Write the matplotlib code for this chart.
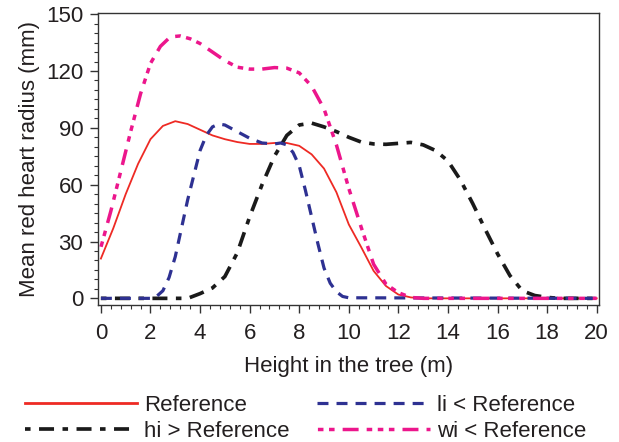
import numpy as np
import matplotlib
matplotlib.use('Agg')
import matplotlib.pyplot as plt
from matplotlib.ticker import MultipleLocator
from matplotlib.lines import Line2D

plt.rcParams['font.family'] = ['Liberation Sans', 'DejaVu Sans']
plt.rcParams['font.size'] = 16
plt.rcParams['lines.scale_dashes'] = False

# red heart radius profiles (height m, radius mm)
ref_x = [0, 0.5, 1, 1.5, 2, 2.5, 3, 3.5, 4, 4.5, 5, 5.5, 6, 6.5, 7, 7.5, 8,
         8.5, 9, 9.5, 10, 10.5, 11, 11.5, 12, 12.5, 13, 20]
ref_y = [21, 37, 55, 71, 84, 91, 93.5, 92, 89, 86, 84, 82.5, 81.5, 81.5, 82,
         82, 80.5, 76, 68.5, 56, 39, 27, 14.5, 6.5, 2, 0.5, 0, 0]

hi_x = [0, 3.5, 4, 4.5, 5, 5.5, 6, 6.5, 7, 7.5, 8, 8.5, 9, 9.5, 10, 10.5, 11,
        11.5, 12, 12.5, 13, 13.5, 14, 14.5, 15, 15.5, 16, 16.5, 17, 17.5, 18,
        18.5, 20]
hi_y = [0, 0, 2.5, 5.5, 11.5, 24, 43, 60, 75, 86, 91.5, 92.5, 90.5, 88, 85,
        82.5, 81.5, 81.3, 81.8, 82.3, 81, 78, 72.5, 62.5, 50, 36.5, 23.5, 12,
        4, 1.5, 0.5, 0, 0]

li_x = [0, 2, 2.2, 2.5, 2.75, 3, 3.25, 3.5, 3.75, 4, 4.25, 4.5, 4.75, 5, 5.5,
        6, 6.5, 7, 7.25, 7.5, 7.75, 8, 8.25, 8.5, 8.75, 9, 9.25, 9.5, 9.75, 10,
        20]
li_y = [0, 0, 0.5, 4, 11, 22, 37, 52, 65, 78, 86, 90.5, 92, 91.5, 88, 84.5,
        82, 81.5, 82, 81, 77, 70, 57, 43, 29, 16, 8, 3.5, 1, 0.3, 0]

wi_x = [0, 0.4, 0.8, 1.2, 1.6, 2, 2.4, 2.8, 3.2, 3.6, 4, 4.5, 5, 5.5, 6, 6.5,
        7, 7.5, 8, 8.5, 9, 9.5, 10, 10.5, 11, 11.5, 12, 12.5, 13, 20]
wi_y = [27, 46, 67, 88, 108, 124, 133, 138, 138.5, 137, 134.5, 130, 125.5,
        122, 121, 121, 121.8, 121.5, 119, 112, 100, 81, 58, 37.5, 18, 7.5, 3,
        0.5, 0, 0]

labels = ['Reference', 'hi > Reference', 'li < Reference', 'wi < Reference']
colors = ['#ee2a24', '#1a1a1a', '#2e3192', '#ec168c']
styles = ['-', (16.9, (10.8, 6.1, 4, 6.1)), (0, (7.9, 5.8)),
          (25, (11.5, 5.8, 4, 4, 4, 4, 4, 5.8))]
widths = [1.3, 2.65, 2.3, 2.5]

fig = plt.figure(figsize=(6.19, 4.42), dpi=100)
ax = fig.add_axes([0.159, 0.310, 0.809, 0.661])

series = [(ref_x, ref_y), (hi_x, hi_y), (li_x, li_y), (wi_x, wi_y)]
for (xs, ys), c, ls, w, lab in zip(series, colors, styles, widths, labels):
    ax.plot(xs, ys, color=c, lw=w, linestyle=ls, label=lab)

ax.set_xlim(-0.1, 20.1)
ax.set_ylim(-3.5, 150.7)
ax.xaxis.set_major_locator(MultipleLocator(2))
ax.xaxis.set_minor_locator(MultipleLocator(0.4))
ax.yaxis.set_major_locator(MultipleLocator(30))
ax.yaxis.set_minor_locator(MultipleLocator(5))
ax.tick_params(which='major', length=6, width=1, color='#333333', labelcolor='#231f20')
ax.tick_params(which='minor', length=3, width=0.8, color='#333333')
ax.tick_params(axis='x', which='major', pad=7)
ax.tick_params(axis='y', which='major', pad=5)
for s in ax.spines.values():
    s.set_color('#333333')
    s.set_linewidth(1)

ax.set_ylabel('Mean red heart radius (mm)', color='#231f20')
ax.yaxis.set_label_coords(-0.117, 0.5)
ax.set_xlabel('Height in the tree (m)', color='#231f20')
ax.xaxis.set_label_coords(0.5, -0.176)

# legend handles, the red one is drawn a bit heavier than in the plot
handles = [Line2D([], [], color=c, lw=(2.0 if i == 0 else w), linestyle=ls)
           for i, (c, ls, w) in enumerate(zip(colors, styles, widths))]
fig.legend(handles, labels, loc='upper left',
           bbox_to_anchor=(24.5 / 619, 1 - 395 / 442), ncol=2,
           frameon=False, borderpad=0, borderaxespad=0, handlelength=5.05,
           handletextpad=0.33, columnspacing=1.25, labelspacing=0.21,
           labelcolor='#231f20')

fig.savefig('out.png', dpi=100)
